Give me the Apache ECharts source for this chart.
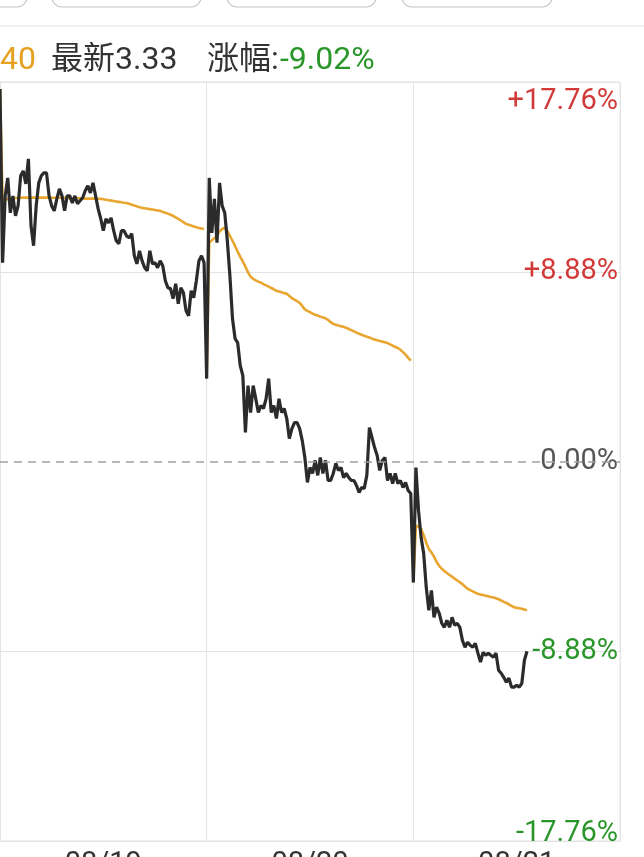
<!DOCTYPE html>
<html>
<head>
<meta charset="utf-8">
<script src="https://cdn.jsdelivr.net/npm/echarts@6/dist/echarts.min.js"></script>
<style>
html,body{margin:0;padding:0;background:#fff;}
#chart{width:644px;height:857px;}
</style>
</head>
<body>
<div id="chart"></div>
<script>
// ---- data (percent change vs previous close) ----
const days = ['08/19', '08/20', '08/21'];
const yTicks = [-17.76, -8.88, 0, 8.88, 17.76];
const pointsPerDay = 80;

const day1Price = [17.43, 9.30, 12.43, 13.27, 11.64, 12.43, 11.50, 11.96, 13.37, 13.60, 12.99, 14.16, 11.03, 10.10, 11.96, 13.04, 13.37, 13.51, 13.51, 12.43, 11.96, 11.73, 12.29, 12.76, 12.43, 11.73, 12.43, 12.43, 12.10, 12.43, 12.06, 12.20, 12.34, 12.67, 12.90, 12.57, 13.04, 12.43, 11.82, 11.36, 10.80, 11.36, 11.17, 11.40, 10.80, 10.33, 10.19, 10.80, 10.80, 10.56, 10.47, 10.66, 9.63, 9.25, 9.86, 9.39, 9.07, 8.93, 9.86, 9.25, 9.30, 9.07, 9.39, 9.16, 8.46, 8.13, 8.09, 7.62, 8.32, 7.38, 8.13, 7.90, 7.06, 6.82, 7.99, 7.66, 8.46, 9.39, 9.63, 9.30];
const day2Price = [3.88, 13.27, 10.70, 12.29, 10.24, 13.04, 11.96, 11.64, 10.33, 8.69, 6.68, 5.75, 5.56, 4.49, 4.02, 1.36, 3.55, 2.29, 3.55, 2.94, 2.29, 2.62, 2.48, 2.94, 3.88, 2.29, 2.62, 2.01, 2.94, 2.29, 2.48, 2.01, 1.07, 1.54, 1.82, 1.82, 1.54, 0.98, 0.19, -0.98, -0.28, -0.56, 0.05, -0.65, 0.19, -0.56, 0.05, -0.89, -0.89, -0.56, -0.09, -0.42, -0.28, -0.75, -0.56, -0.75, -0.89, -0.89, -1.12, -1.45, -1.22, -1.26, -0.65, 1.59, 1.12, 0.65, 0.28, -0.42, 0.05, 0.19, -0.89, -0.56, -1.03, -0.56, -1.03, -0.89, -1.22, -0.98, -1.36, -1.50];
const day3Price = [-5.66, -0.28, -2.29, -3.55, -4.30, -5.89, -6.96, -6.03, -7.29, -6.82, -7.10, -7.57, -7.76, -7.43, -7.76, -7.29, -7.66, -7.57, -7.76, -8.37, -8.69, -8.46, -8.60, -8.69, -8.51, -8.97, -9.39, -8.93, -9.07, -8.97, -9.07, -9.16, -8.97, -9.77, -9.91, -10.10, -10.33, -10.14, -10.56, -10.56, -10.47, -10.56, -10.38, -9.30, -8.88];

const day1Avg = [17.43, 12.20, 12.25, 12.28, 12.30, 12.32, 12.33, 12.34, 12.34, 12.35, 12.35, 12.35, 12.35, 12.35, 12.35, 12.35, 12.35, 12.35, 12.35, 12.34, 12.34, 12.34, 12.34, 12.34, 12.34, 12.34, 12.34, 12.32, 12.32, 12.32, 12.32, 12.32, 12.32, 12.30, 12.30, 12.30, 12.30, 12.30, 12.30, 12.29, 12.27, 12.25, 12.23, 12.21, 12.19, 12.17, 12.15, 12.13, 12.11, 12.10, 12.06, 12.02, 11.98, 11.94, 11.90, 11.87, 11.85, 11.83, 11.81, 11.79, 11.77, 11.75, 11.73, 11.68, 11.64, 11.60, 11.55, 11.50, 11.43, 11.36, 11.28, 11.20, 11.12, 11.08, 11.04, 11.00, 10.96, 10.93, 10.90, 10.88];
const day2Avg = [3.88, 10.24, 10.35, 10.45, 10.56, 10.78, 10.88, 10.94, 10.80, 10.56, 10.33, 10.08, 9.82, 9.58, 9.35, 9.12, 8.85, 8.65, 8.55, 8.48, 8.42, 8.37, 8.30, 8.24, 8.18, 8.12, 8.06, 7.99, 7.96, 7.92, 7.88, 7.85, 7.75, 7.64, 7.57, 7.50, 7.42, 7.28, 7.12, 7.05, 6.99, 6.92, 6.87, 6.83, 6.78, 6.74, 6.70, 6.63, 6.52, 6.44, 6.40, 6.36, 6.33, 6.30, 6.26, 6.20, 6.15, 6.09, 6.03, 5.98, 5.93, 5.88, 5.84, 5.80, 5.75, 5.71, 5.67, 5.64, 5.61, 5.58, 5.54, 5.48, 5.42, 5.36, 5.31, 5.23, 5.12, 5.00, 4.85, 4.72];
const day3Avg = [-5.66, -3.00, -3.05, -3.15, -3.45, -3.80, -4.10, -4.25, -4.45, -4.70, -4.88, -5.02, -5.12, -5.22, -5.31, -5.39, -5.48, -5.57, -5.65, -5.74, -5.85, -5.95, -6.02, -6.08, -6.14, -6.19, -6.23, -6.25, -6.28, -6.31, -6.34, -6.36, -6.40, -6.45, -6.50, -6.57, -6.62, -6.69, -6.76, -6.82, -6.85, -6.87, -6.89, -6.93, -6.96];

// ---- build series data ----
function build(list, breakDays) {
  const out = [];
  list.forEach((arr, d) => {
    if (breakDays && d > 0) out.push([d * pointsPerDay - 0.5, null]);
    arr.forEach((v, i) => out.push([d * pointsPerDay + i, v]));
  });
  return out;
}
const priceData = build([day1Price, day2Price, day3Price], false);
const avgData = build([day1Avg, day2Avg, day3Avg], true);

const RED = '#d23a3a', GREEN = '#2a962a', GRAY = '#555555';
const FONT = 'Roboto, "Noto Sans CJK SC", sans-serif';

function fmt(v) {
  const r = Math.round(v * 100) / 100;
  if (r > 0) return '+' + r.toFixed(2) + '%';
  if (r < 0) return r.toFixed(2) + '%';
  return '0.00%';
}

const chart = echarts.init(document.getElementById('chart'), null, {renderer: 'canvas'});
chart.setOption({
  animation: false,
  backgroundColor: '#ffffff',
  grid: {left: 0, right: 24, top: 82, bottom: 16, show: true, borderColor: '#e4e4e4', borderWidth: 1,
         containLabel: false, outerBoundsMode: 'none'},
  xAxis: [
    {type: 'value', min: 0, max: pointsPerDay * days.length, show: false},
    {type: 'category', data: days, boundaryGap: true, position: 'bottom',
     axisLine: {show: false}, axisTick: {show: false},
     splitLine: {show: true, lineStyle: {color: '#e4e4e4', width: 1}},
     axisLabel: {fontSize: 29, color: '#333', margin: 9, fontFamily: FONT}}
  ],
  yAxis: {
    type: 'value', min: yTicks[0], max: yTicks[yTicks.length - 1], interval: 8.88,
    position: 'right',
    axisLine: {show: false}, axisTick: {show: false},
    splitLine: {show: true, lineStyle: {color: ['#e4e4e4', '#e4e4e4', 'rgba(0,0,0,0)', '#e4e4e4', '#e4e4e4'], width: 1}},
    axisLabel: {
      inside: true, margin: 2, fontSize: 29, fontFamily: FONT,
      showMinLabel: true, showMaxLabel: true,
      formatter: function (v) {
        const r = Math.round(v * 100) / 100;
        const t = fmt(v);
        if (r >= 17.7) return '{top|' + t + '}';
        if (r <= -17.7) return '{bot|' + t + '}';
        if (r > 0) return '{red|' + t + '}';
        if (r < 0) return '{green|' + t + '}';
        return '{gray|' + t + '}';
      },
      rich: {
        top: {color: RED, fontSize: 29, fontFamily: FONT, padding: [40, 0, 0, 0]},
        bot: {color: GREEN, fontSize: 29, fontFamily: FONT, padding: [0, 0, 15, 0]},
        red: {color: RED, fontSize: 29, fontFamily: FONT},
        green: {color: GREEN, fontSize: 29, fontFamily: FONT},
        gray: {color: GRAY, fontSize: 29, fontFamily: FONT}
      }
    }
  },
  series: [
    {
      name: 'avg', type: 'line', xAxisIndex: 0, data: avgData, showSymbol: false, connectNulls: false,
      lineStyle: {color: '#e8a630', width: 2.6}, z: 2,
      markLine: {
        silent: true, symbol: 'none', label: {show: false},
        lineStyle: {color: '#a0a0a0', type: [8, 6], width: 1.6},
        data: [{yAxis: 0}]
      }
    },
    {
      name: 'price', type: 'line', xAxisIndex: 0, data: priceData, showSymbol: false,
      lineStyle: {color: '#2b2b2b', width: 3.2}, z: 3
    }
  ],
  graphic: [
    {type: 'rect', shape: {x: -120, y: -30, width: 147, height: 37, r: 10}, style: {fill: '#fff', stroke: '#c4c4c4', lineWidth: 1.2}},
    {type: 'rect', shape: {x: 52, y: -30, width: 149, height: 37, r: 10}, style: {fill: '#fff', stroke: '#c4c4c4', lineWidth: 1.2}},
    {type: 'rect', shape: {x: 227, y: -30, width: 149, height: 37, r: 10}, style: {fill: '#fff', stroke: '#c4c4c4', lineWidth: 1.2}},
    {type: 'rect', shape: {x: 402, y: -30, width: 150, height: 37, r: 10}, style: {fill: '#fff', stroke: '#c4c4c4', lineWidth: 1.2}},
    {type: 'line', shape: {x1: 0, y1: 26, x2: 644, y2: 26}, style: {stroke: '#ececec', lineWidth: 1.5}},
    {type: 'text', x: 0, y: 61, style: {text: '40', fill: '#e5a11f', font: '32px ' + FONT, textVerticalAlign: 'middle'}},
    {type: 'text', x: 51, y: 61, style: {text: '最新3.33', fill: '#333', font: '32px ' + FONT, textVerticalAlign: 'middle'}},
    {type: 'text', x: 207, y: 61, style: {text: '涨幅:', fill: '#333', font: '32px ' + FONT, textVerticalAlign: 'middle'}},
    {type: 'text', x: 280, y: 61, style: {text: '-9.02%', fill: GREEN, font: '32px ' + FONT, textVerticalAlign: 'middle'}}
  ]
});
</script>
</body>
</html>
